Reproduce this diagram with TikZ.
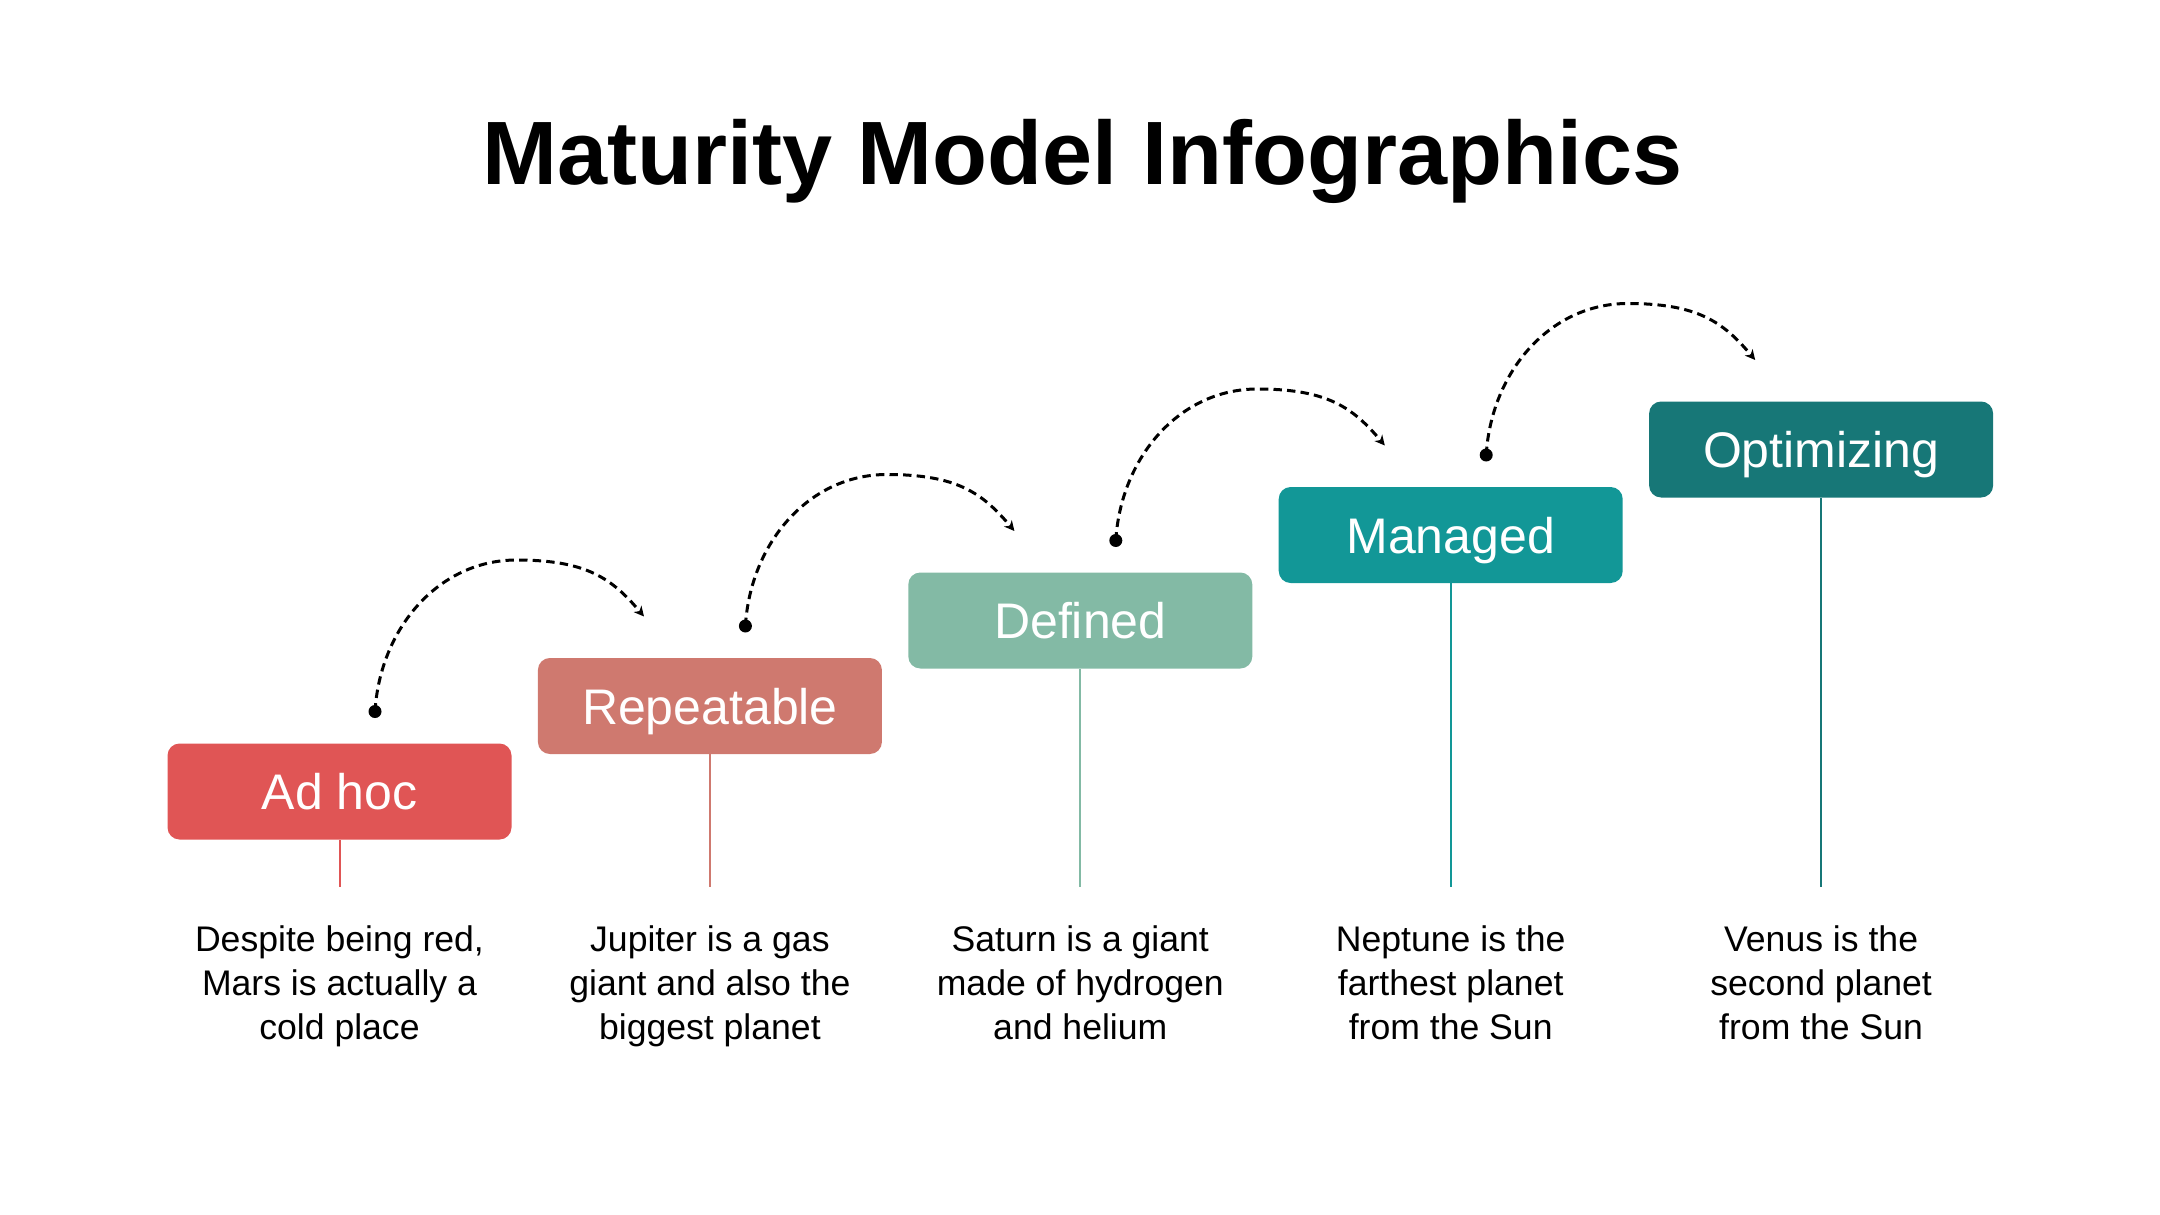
\documentclass[tikz,border=0pt]{standalone}
\usepackage{fontspec}
\setmainfont{Liberation Sans}
\usetikzlibrary{arrows.meta,calc}
\definecolor{cA}{HTML}{E05555}
\definecolor{cB}{HTML}{CF796F}
\definecolor{cC}{HTML}{83BAA5}
\definecolor{cD}{HTML}{129797}
\definecolor{cE}{HTML}{177777}
\begin{document}
\begin{tikzpicture}[x=0.5pt,y=-0.5pt,
 stagebox/.style={rounded corners=6pt, minimum width=172pt, minimum height=48pt, inner sep=0pt, draw=none},
 stagelabel/.style={anchor=base, text=white, font=\fontsize{25}{30}\selectfont, inner sep=0pt},
 desc/.style={anchor=north, align=center, font=\fontsize{17.8}{22}\selectfont, inner sep=0pt},
 stem/.style={line width=1pt},
 hop/.style={dash pattern=on 4.2pt off 2.6pt, line width=1.5pt, -{Stealth[length=5pt,width=5pt,inset=1.5pt]}},
 hopdot/.style={circle, fill=black, inner sep=0pt, minimum size=6.5pt}
]
\useasboundingbox (0,0) rectangle (2160,1215);
\node[anchor=base, font=\fontsize{45}{54}\selectfont\bfseries, inner sep=0pt] (title) at (1083,184) {Maturity Model Infographics};

% boxes
\node[stagebox, fill=cA] (b1) at (339.5,791.5) {};
\node[stagebox, fill=cB] (b2) at (709.9,706) {};
\node[stagebox, fill=cC] (b3) at (1080.3,620.5) {};
\node[stagebox, fill=cD] (b4) at (1450.7,535) {};
\node[stagebox, fill=cE] (b5) at (1821.1,449.5) {};

\node[stagelabel] (l1) at ($(b1.center)+(0,18)$) {Ad hoc};
\node[stagelabel] (l2) at ($(b2.center)+(0,18)$) {Repeatable};
\node[stagelabel] (l3) at ($(b3.center)+(0,18)$) {Defined};
\node[stagelabel] (l4) at ($(b4.center)+(0,18)$) {Managed};
\node[stagelabel] (l5) at ($(b5.center)+(0,18)$) {Optimizing};

% stems
\coordinate (e1) at (339.5,887);
\coordinate (e2) at (709.9,887);
\coordinate (e3) at (1080.3,887);
\coordinate (e4) at (1450.7,887);
\coordinate (e5) at (1821.1,887);
\draw[stem,cA] (b1.south) -- (e1);
\draw[stem,cB] (b2.south) -- (e2);
\draw[stem,cC] (b3.south) -- (e3);
\draw[stem,cD] (b4.south) -- (e4);
\draw[stem,cE] (b5.south) -- (e5);

% descriptions
\node[desc] (d1) at (339.5,925) {Despite being red,\\Mars is actually a\\cold place};
\node[desc] (d2) at (709.9,925) {Jupiter is a gas\\giant and also the\\biggest planet};
\node[desc] (d3) at (1080.3,925) {Saturn is a giant\\made of hydrogen\\and helium};
\node[desc] (d4) at (1450.7,925) {Neptune is the\\farthest planet\\from the Sun};
\node[desc] (d5) at (1821.1,925) {Venus is the\\second planet\\from the Sun};

% hops
\foreach \i in {1,2,3,4}{
  \node[hopdot] (s\i) at ($(b\i.center)+(35.5,-80)$) {};
  \coordinate (p\i) at ($(b\i.center)+(177,-231.5)$);
  \coordinate (t\i) at ($(b\i.center)+(304.5,-175)$);
  \draw[hop] (s\i.center) .. controls +(5,-83) and +(-78,0) .. (p\i)
     .. controls +(70,0) and +(-32,-38) .. (t\i);
}
\end{tikzpicture}
\end{document}
